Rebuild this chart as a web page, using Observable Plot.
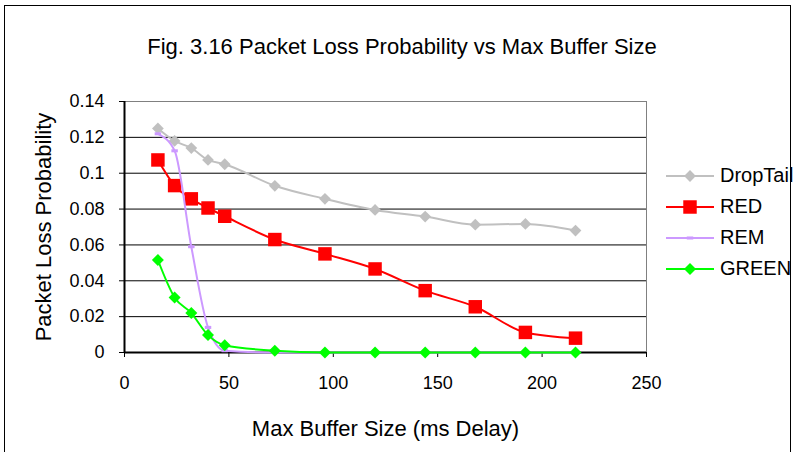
<!DOCTYPE html>
<html>
<head>
<meta charset="utf-8">
<script src="https://cdn.jsdelivr.net/npm/d3@7"></script>
<script src="https://cdn.jsdelivr.net/npm/@observablehq/plot@0.6"></script>
<style>
  html, body { margin: 0; padding: 0; background: #fff; overflow: hidden; }
  #chart { position: relative; width: 796px; height: 452px; overflow: hidden;
           font-family: "Liberation Sans", Arial, sans-serif; color: #000; }
  #frame { position: absolute; left: 4px; top: 5px; width: 787px; height: 500px;
           border: 1px solid #000; box-sizing: border-box; }
  #title { position: absolute; left: 0; top: 36px; width: 804px; text-align: center;
           font-size: 22px; line-height: 22px; white-space: nowrap; }
  #plot { position: absolute; left: 0; top: 0; }
  #legend { position: absolute; left: 666px; top: 160px; }
  .item { display: flex; align-items: center; height: 31px; font-size: 20px; }
  .item svg { margin-right: 6px; }
</style>
</head>
<body>
<div id="chart">
  <div id="frame"></div>
  <div id="title">Fig. 3.16 Packet Loss Probability vs Max Buffer Size</div>
  <div id="plot"></div>
  <div id="legend"></div>
</div>
<script>
// Max buffer size (ms of delay) at which each queue discipline was measured
const bufferSizes = [16, 24, 32, 40, 48, 72, 96, 120, 144, 168, 192, 216];

// Packet loss probability per discipline
const dropTail = [0.125, 0.118, 0.114, 0.1074, 0.105, 0.093, 0.0857, 0.0795, 0.0758, 0.0713, 0.0717, 0.068];
const red      = [0.1074, 0.0931, 0.0857, 0.0806, 0.076, 0.063, 0.055, 0.0466, 0.0345, 0.0255, 0.0112, 0.008];
const rem      = [0.122, 0.1125, 0.059, 0.014, 0.001, 0, 0, 0, 0, 0, 0, 0];
const green    = [0.0516, 0.0307, 0.022, 0.0097, 0.0041, 0.001, 0, 0, 0, 0, 0, 0];

const seriesNames = ["DropTail", "RED", "REM", "GREEN"];
const xTicks = [0, 50, 100, 150, 200, 250];
const yTicks = [0, 0.02, 0.04, 0.06, 0.08, 0.1, 0.12, 0.14];

// Small horizontal bar used as the REM point marker
const dash = {
  draw(context, size) {
    const s = Math.sqrt(size / Math.PI);
    context.rect(-1.7 * s, -0.8 * s, 3.4 * s, 1.6 * s);
  }
};

const styles = {
  DropTail: {color: "#c0c0c0", symbol: d3.symbolDiamond2, r: 5.3},
  RED:      {color: "#ff0000", symbol: d3.symbolSquare,   r: 7.6},
  REM:      {color: "#cc99ff", symbol: dash,              r: 1.9},
  GREEN:    {color: "#00ff00", symbol: d3.symbolDiamond2, r: 5.4}
};

const valuesBySeries = {DropTail: dropTail, RED: red, REM: rem, GREEN: green};
const rows = seriesNames.flatMap(name =>
  bufferSizes.map((x, i) => ({series: name, x, y: valuesBySeries[name][i]}))
);

const seriesMarks = seriesNames.flatMap(name => {
  const data = rows.filter(d => d.series === name);
  const st = styles[name];
  return [
    Plot.line(data, {x: "x", y: "y", stroke: st.color, strokeWidth: 2, curve: "monotone-x"}),
    Plot.dot(data, {x: "x", y: "y", symbol: () => st.symbol, fill: st.color, stroke: "none", r: st.r})
  ];
});

const chart = Plot.plot({
  width: 796,
  height: 452,
  marginLeft: 124,
  marginRight: 150,
  marginTop: 101,
  marginBottom: 100,
  style: {fontFamily: "'Liberation Sans', Arial, sans-serif", fontSize: "18px", background: "transparent", color: "#000"},
  x: {domain: [0, 250]},
  y: {domain: [0, 0.14]},
  symbol: {type: "identity"},
  marks: [
    Plot.frame({stroke: "#808080"}),
    Plot.gridY(yTicks.slice(1, -1), {stroke: "#000", strokeOpacity: 1}),
    Plot.axisX(xTicks, {tickSize: 5, tickPadding: 19, label: null, fontSize: 18}),
    Plot.axisY(yTicks, {tickSize: 5, tickPadding: 15, label: null, fontSize: 18,
                        tickFormat: d => String(+d.toFixed(2))}),
    Plot.ruleY([0], {stroke: "#000", strokeWidth: 2}),
    Plot.ruleX([0], {stroke: "#000", strokeWidth: 2}),
    ...seriesMarks,
    Plot.text(["Max Buffer Size (ms Delay)"], {frameAnchor: "bottom", textAnchor: "middle", lineAnchor: "middle", dy: 76, fontSize: 22}),
    Plot.text(["Packet Loss Probability"], {frameAnchor: "left", textAnchor: "middle", lineAnchor: "middle", dx: -81, rotate: -90, fontSize: 22})
  ]
});
document.getElementById("plot").appendChild(chart);

// Legend: line sample with centered marker, then the series name
const legend = d3.select("#legend");
seriesNames.forEach(name => {
  const st = styles[name];
  const item = legend.append("div").attr("class", "item");
  const svg = item.append("svg").attr("width", 48).attr("height", 16);
  svg.append("line").attr("x1", 0).attr("x2", 48).attr("y1", 8).attr("y2", 8)
    .attr("stroke", st.color).attr("stroke-width", 2);
  svg.append("path").attr("transform", "translate(24,8)")
    .attr("d", d3.symbol(st.symbol, st.r * st.r * Math.PI)())
    .attr("fill", st.color);
  item.append("span").text(name);
});
</script>
</body>
</html>
